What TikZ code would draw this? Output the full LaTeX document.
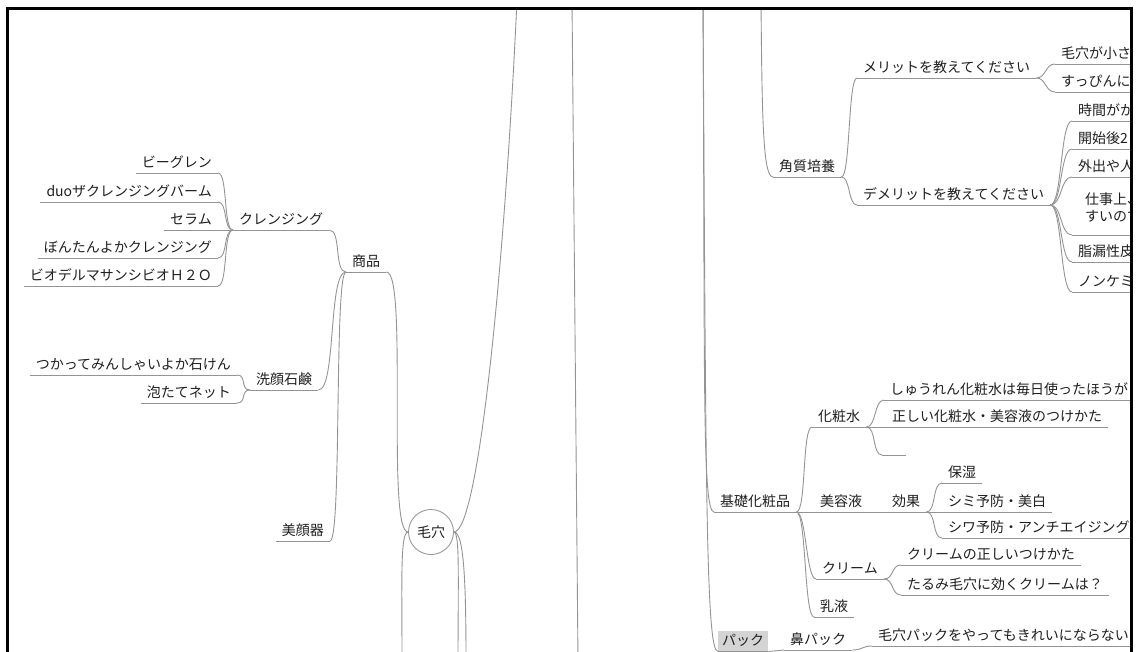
\documentclass[tikz,border=0pt]{standalone}
\usepackage{fontspec}
\setmainfont{Noto Sans CJK JP}
\usepackage{tikz}

\tikzset{
  link/.style={draw=black!42, line width=0.9pt},
  topic/.style={inner xsep=6pt, inner ysep=2.5pt, text height=12pt, text depth=3pt, font=\fontsize{14}{17}\selectfont, text=black!88,
    append after command={(\tikzlastnode.south west) edge[link] (\tikzlastnode.south east)}},
  tag/.style={topic, fill=black!17, inner xsep=4pt},
  hub/.style={circle, draw=black!40, line width=0.9pt, minimum size=45pt, inner sep=0pt, font=\fontsize{14}{17}\selectfont, text=black!88}
}

\begin{document}
\begin{tikzpicture}[x=1pt,y=-1pt]
\useasboundingbox (0,0) rectangle (1139,652);
\begin{scope}
\clip (8,10) rectangle (1130,652);

\node[hub] (mk) at (431,532) {毛穴};
\coordinate (upA) at (517,0); \coordinate (upB) at (572,0); \coordinate (upC) at (703,0); \coordinate (upD) at (761,0);
\coordinate (dnL) at (402,662); \coordinate (dnR1) at (458,662); \coordinate (dnR2) at (466,662); \coordinate (dnB) at (578,662);

\node[topic, anchor=south east] (biig) at (218,173) {ビーグレン};
\node[topic, anchor=south east] (duo) at (218,202) {duoザクレンジングバーム};
\node[topic, anchor=south east] (sera) at (218,230) {セラム};
\node[topic, anchor=south east] (bont) at (218,258) {ぼんたんよかクレンジング};
\node[topic, anchor=south east] (bio) at (218,286) {ビオデルマサンシビオＨ２Ｏ};
\node[topic, anchor=south west] (kuren) at (233,230) {クレンジング};
\node[topic, anchor=south west] (shohin) at (346,272) {商品};
\node[topic, anchor=south east] (tsuka) at (237,375) {つかってみんしゃいよか石けん};
\node[topic, anchor=south east] (awa) at (237,403) {泡たてネット};
\node[topic, anchor=south west] (senga) at (250,390) {洗顔石鹸};
\node[topic, anchor=south east] (bigan) at (330,541) {美顔器};

\draw[link] (biig.south east) .. controls +(10,0) and +(-10,0) .. (kuren.south west);
\draw[link] (duo.south east) .. controls +(10,0) and +(-10,0) .. (kuren.south west);
\draw[link] (sera.south east) -- (kuren.south west);
\draw[link] (bont.south east) .. controls +(10,0) and +(-10,0) .. (kuren.south west);
\draw[link] (bio.south east) .. controls +(10,0) and +(-10,0) .. (kuren.south west);
\draw[link] (tsuka.south east) .. controls +(10,0) and +(-10,0) .. (senga.south west);
\draw[link] (awa.south east) .. controls +(10,0) and +(-10,0) .. (senga.south west);
\draw[link] (kuren.south east) .. controls +(12,0) and +(-12,0) .. (shohin.south west);
\draw[link] (senga.south east) .. controls +(18,0) and +(-18,0) .. (shohin.south west);
\draw[link] (bigan.south east) .. controls +(12,0) and +(-12,0) .. (shohin.south west);
\draw[link] (shohin.south east) .. controls +(22,0) and +(-22,0) .. (mk.west);

\draw[link] (mk.east) .. controls +(25,0) and +(-12,260) .. (upA);
\draw[link] (mk.west) .. controls +(-8,0) and +(0,-80) .. (dnL);
\draw[link] (mk.east) .. controls +(6,0) and +(0,-80) .. (dnR1);
\draw[link] (mk.east) .. controls +(10,0) and +(0,-80) .. (dnR2);
\draw[link] (upB) -- (dnB);

\node[topic, anchor=south west] (kaku) at (773,177) {角質培養};
\node[topic, anchor=south west] (meri) at (857,78) {メリットを教えてください};
\node[topic, anchor=south west] (demeri) at (857,205) {デメリットを教えてください};
\node[topic, anchor=south west] (kea) at (1055,64) {毛穴が小さ};
\node[topic, anchor=south west] (suppin) at (1055,92) {すっぴんに};
\node[topic, anchor=south west] (jikan) at (1072,121) {時間がか};
\node[topic, anchor=south west] (kaishi) at (1072,149) {開始後2};
\node[topic, anchor=south west] (gaishutsu) at (1072,177) {外出や人};
\node[topic, anchor=south west, align=left, inner xsep=13pt, text height=29pt, text depth=10.5pt] (shigoto) at (1072,235) {仕事上、\\すいので};
\node[topic, anchor=south west] (shiro) at (1072,262) {脂漏性皮};
\node[topic, anchor=south west] (nonke) at (1072,292) {ノンケミ};

\draw[link] (upD) .. controls +(1,120) and +(-10,0) .. (kaku.south west);
\draw[link] (kaku.south east) .. controls +(9,0) and +(-9,0) .. (meri.south west);
\draw[link] (kaku.south east) .. controls +(9,0) and +(-9,0) .. (demeri.south west);
\draw[link] (meri.south east) .. controls +(10,0) and +(-10,0) .. (kea.south west);
\draw[link] (meri.south east) .. controls +(10,0) and +(-10,0) .. (suppin.south west);
\draw[link] (demeri.south east) .. controls +(12,0) and +(-12,0) .. (jikan.south west);
\draw[link] (demeri.south east) .. controls +(12,0) and +(-12,0) .. (kaishi.south west);
\draw[link] (demeri.south east) .. controls +(12,0) and +(-12,0) .. (gaishutsu.south west);
\draw[link] (demeri.south east) .. controls +(12,0) and +(-12,0) .. (shigoto.south west);
\draw[link] (demeri.south east) .. controls +(12,0) and +(-12,0) .. (shiro.south west);
\draw[link] (demeri.south east) .. controls +(12,0) and +(-12,0) .. (nonke.south west);

\node[topic, anchor=south west] (kiso) at (714,512) {基礎化粧品};
\node[topic, anchor=south west] (kesho) at (812,427) {化粧水};
\node[topic, anchor=south west] (shuren) at (884,400) {しゅうれん化粧水は毎日使ったほうが};
\node[topic, anchor=south west] (tadashii) at (886,427) {正しい化粧水・美容液のつけかた};
\node[topic, anchor=south west, minimum width=24pt] (kara) at (882,455) {};
\node[topic, anchor=south west] (biyou) at (814,512) {美容液};
\node[topic, anchor=south west] (koka) at (886,512) {効果};
\node[topic, anchor=south west] (hoshitsu) at (942,483) {保湿};
\node[topic, anchor=south west] (shimi) at (942,512) {シミ予防・美白};
\node[topic, anchor=south west] (shiwa) at (942,538) {シワ予防・アンチエイジング};
\node[topic, anchor=south west] (cream) at (816,579) {クリーム};
\node[topic, anchor=south west] (tsuke) at (901,565) {クリームの正しいつけかた};
\node[topic, anchor=south west] (tarumi) at (901,595) {たるみ毛穴に効くクリームは？};
\node[topic, anchor=south west] (nyueki) at (814,617) {乳液};
\node[tag, anchor=south west] (pakku) at (718,651.5) {パック};
\node[topic, anchor=south west] (hana) at (784,650) {鼻パック};
\node[topic, anchor=south west] (keapack) at (872,646) {毛穴パックをやってもきれいにならない};

\draw[link] (upC) .. controls +(2,380) and +(-12,0) .. (kiso.south west);
\draw[link] (upC) .. controls +(3,500) and +(-12,0) .. (pakku.south west);
\draw[link] (kiso.south east) .. controls +(10,0) and +(-10,0) .. (kesho.south west);
\draw[link] (kiso.south east) -- (biyou.south west);
\draw[link] (kiso.south east) .. controls +(10,0) and +(-10,0) .. (cream.south west);
\draw[link] (kiso.south east) .. controls +(10,0) and +(-10,0) .. (nyueki.south west);
\draw[link] (kesho.south east) .. controls +(10,0) and +(-10,0) .. (shuren.south west);
\draw[link] (kesho.south east) -- (tadashii.south west);
\draw[link] (kesho.south east) .. controls +(10,0) and +(-10,0) .. (kara.south west);
\draw[link] (biyou.south east) -- (koka.south west);
\draw[link] (koka.south east) .. controls +(10,0) and +(-10,0) .. (hoshitsu.south west);
\draw[link] (koka.south east) -- (shimi.south west);
\draw[link] (koka.south east) .. controls +(10,0) and +(-10,0) .. (shiwa.south west);
\draw[link] (cream.south east) .. controls +(10,0) and +(-10,0) .. (tsuke.south west);
\draw[link] (cream.south east) .. controls +(10,0) and +(-10,0) .. (tarumi.south west);
\draw[link] (pakku.south east) -- (hana.south west);
\draw[link] (hana.south east) .. controls +(10,0) and +(-10,0) .. (keapack.south west);
\end{scope}

\draw[line width=3pt] (7,652) -- (7,9) -- (1131,9) -- (1131,652);
\end{tikzpicture}
\end{document}
